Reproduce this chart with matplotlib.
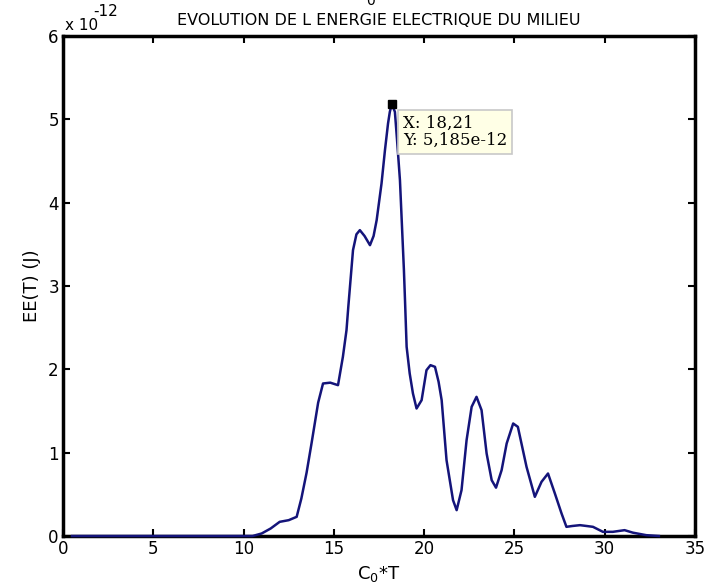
import matplotlib
matplotlib.use('Agg')
import matplotlib.pyplot as plt

# Energie electrique du milieu en fonction de C0*T (valeurs en 1e-12 J)
ct = [0.5, 2, 4, 6, 8, 10, 10.5, 11.0, 11.5, 12.0, 12.5, 12.94, 13.2, 13.49, 13.77,
      14.13, 14.4, 14.8, 15.23, 15.5, 15.7, 15.8, 16.06, 16.25, 16.44, 16.7, 17.0,
      17.2, 17.37, 17.64, 17.83, 18.0, 18.1, 18.21, 18.38, 18.5, 18.66, 18.88, 18.94,
      19.03, 19.2, 19.38, 19.58, 19.86, 20.13, 20.35, 20.6, 20.8, 20.97, 21.24, 21.6,
      21.8, 22.07, 22.35, 22.63, 22.9, 23.18, 23.46, 23.74, 23.98, 24.29, 24.57,
      24.93, 25.19, 25.4, 25.67, 26.13, 26.5, 26.86, 27.24, 27.61, 27.88, 28.2,
      28.63, 29.0, 29.35, 29.9, 30.45, 31.1, 31.56, 32.3, 33.0]
ee = [0, 0, 0, 0, 0, 0, 0.0, 0.03, 0.09, 0.17, 0.19, 0.23, 0.45, 0.76, 1.12,
      1.6, 1.83, 1.84, 1.81, 2.15, 2.47, 2.75, 3.43, 3.62, 3.67, 3.6, 3.49,
      3.6, 3.79, 4.23, 4.63, 4.95, 5.09, 5.185, 5.09, 4.75, 4.27, 3.19, 2.83,
      2.27, 1.95, 1.71, 1.53, 1.63, 1.99, 2.05, 2.03, 1.85, 1.63, 0.91, 0.43,
      0.31, 0.55, 1.15, 1.55, 1.67, 1.51, 0.99, 0.67, 0.58, 0.79, 1.11,
      1.35, 1.31, 1.1, 0.83, 0.47, 0.65, 0.75, 0.51, 0.27, 0.11, 0.12,
      0.13, 0.12, 0.11, 0.05, 0.05, 0.07, 0.04, 0.01, 0.0]

x_peak = 18.21
y_peak = 5.185

fig = plt.figure(figsize=(7.16, 5.84), dpi=100)
ax = fig.add_axes([63 / 716, 48 / 584, 632 / 716, 500 / 584])

ax.plot(ct, ee, color='#14147a', linewidth=1.8, zorder=3, clip_on=False)
ax.plot([x_peak], [y_peak], marker='s', color='black', markersize=6,
        linestyle='none', zorder=4)

ax.set_xlim(0, 35)
ax.set_ylim(0, 6)
ax.set_xticks(range(0, 36, 5))
ax.set_yticks(range(0, 7))
ax.tick_params(direction='in', length=5, width=1.5, labelsize=12, pad=3,
               top=True, right=True)
for side in ax.spines.values():
    side.set_linewidth(2.5)

ax.set_title('EVOLUTION DE L ENERGIE ELECTRIQUE DU MILIEU', fontsize=11.5, pad=8)
fig.text(0.517, 0.998, '0', ha='center', va='center', fontsize=10)
ax.set_xlabel('C$_0$*T', fontsize=13, labelpad=4)
ax.set_ylabel('EE(T) (J)', fontsize=13, labelpad=5)

# facteur d'echelle de l'axe y
ax.text(0.003, 1.005, 'x 10', transform=ax.transAxes, fontsize=11, va='bottom')
ax.text(0.048, 1.035, '-12', transform=ax.transAxes, fontsize=11, va='bottom')

# bulle de donnee sur le maximum
ax.annotate('X: 18,21\nY: 5,185e-12', xy=(x_peak, y_peak),
            xytext=(8, -8), textcoords='offset points', va='top', ha='left',
            fontsize=12, family='DejaVu Serif', linespacing=1.0,
            bbox=dict(boxstyle='square,pad=0.3', fc='#ffffe6', ec='#c8c8c8', lw=1.2),
            zorder=5)

fig.savefig('out.png', dpi=100)
